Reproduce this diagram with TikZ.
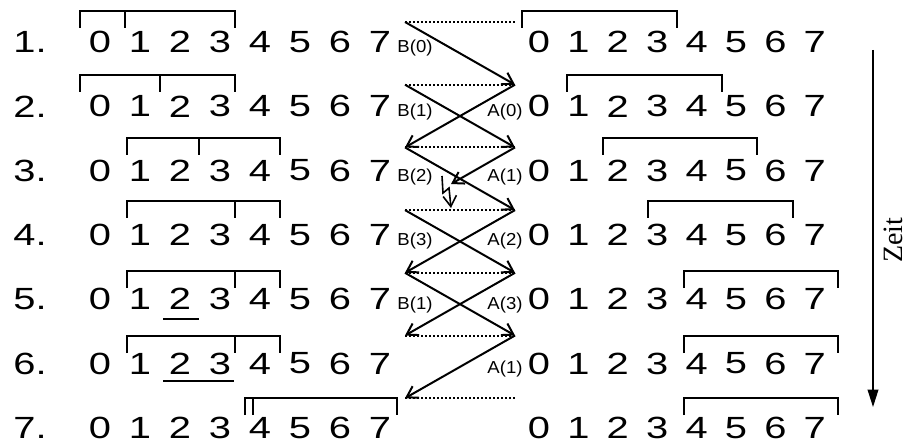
\documentclass[tikz,border=0pt]{standalone}
\usepackage{fontspec}
\setmainfont{Liberation Sans}
\newfontfamily\zeitfont{Liberation Serif}
\usetikzlibrary{arrows.meta}

\tikzset{
  ziffer/.style={inner sep=0pt, xscale=1.3, font=\fontsize{23}{27}\selectfont},
  marke/.style={inner sep=0pt, xscale=1.07, font=\fontsize{13}{15}\selectfont},
  klammer/.style={line width=1.6pt},
  pfeil/.style={line width=1.5pt, -{Straight Barb[length=8pt,width=10pt]}},
  punkte/.style={line width=1.5pt, dash pattern=on 1.5pt off 1.5pt},
}

\begin{document}
\begin{tikzpicture}[x=0.75pt, y=-0.75pt]
  \useasboundingbox (0,0) rectangle (906,445);
  % Zeilen: Nummer, linke und rechte Ziffernfolge
  \foreach \r in {1,...,7} {
    \pgfmathsetmacro{\y}{42+64.3*(\r-1)}
    \node[ziffer, anchor=west] (nr\r) at (13,\y) {\r.};
    \foreach \i in {0,...,7} {
      \node[ziffer] (l\r\i) at (100+40*\i,\y) {\i};
      \node[ziffer] (r\r\i) at (539+39.4*\i,\y) {\i};
    }
  }
  % Klammern links (mit Teilung) und rechts
  \foreach \r/\yk/\a/\m/\b in {1/11/80/125/235, 2/75/80/160/235, 3/138/127/199/280,
      4/201/127/235/280, 5/271/127/235/280, 6/336/127/235/280, 7/398/245/253/397} {
    \draw[klammer] (\a,\yk+17) |- (\b,\yk) -- (\b,\yk+17);
    \draw[klammer] (\m,\yk) -- (\m,\yk+17);
  }
  \foreach \yk/\c/\d in {11/522/677, 75/567/722, 138/603/757, 201/648/793,
      271/684/838, 336/684/838, 398/684/838}
    \draw[klammer] (\c,\yk+17) |- (\d,\yk) -- (\d,\yk+17);
  \draw[klammer] (163,319) -- (199,319);
  \draw[klammer] (163,381) -- (234,381);
  % Nachrichten zwischen B und A
  \foreach \r in {1,...,7} {
    \pgfmathsetmacro{\y}{22+62.7*(\r-1)}
    \coordinate (L\r) at (405,\y);
    \coordinate (R\r) at (515,\y);
    \draw[punkte] (L\r) -- (R\r);
  }
  \foreach \s/\e in {L1/R2, R2/L3, L2/R3, L3/R4, L4/R5, R4/L5, L5/R6, R5/L6, R6/L7}
    \draw[pfeil] (\s) -- (\e);
  \coordinate (cut) at (451,184);
  \draw[pfeil] (R3) -- (cut);
  \coordinate (z1) at (442,176);
  \coordinate (z2) at (443,193);
  \coordinate (z3) at (449,188);
  \coordinate (z4) at (451,208);
  \draw[pfeil, line width=1.2pt] (z1) -- (z2) -- (z3) -- (z4);
  \foreach \r/\k in {1/0, 2/1, 3/2, 4/3, 5/1}
    \node[marke] (b\r) at (415,{48+64.3*(\r-1)}) {B(\k)};
  \foreach \r/\k in {2/0, 3/1, 4/2, 5/3, 6/1}
    \node[marke] (a\r) at (505,{48+64.3*(\r-1)}) {A(\k)};
  % Zeitachse
  \coordinate (t0) at (873,50);
  \coordinate (t1) at (873,407);
  \draw[line width=1.1pt, -{Triangle[length=13pt,width=8pt]}] (t0) -- (t1);
  \node[font=\zeitfont\fontsize{21}{24}\selectfont, rotate=90, inner sep=0pt] (zeit) at (893,240) {Zeit};
\end{tikzpicture}
\end{document}
